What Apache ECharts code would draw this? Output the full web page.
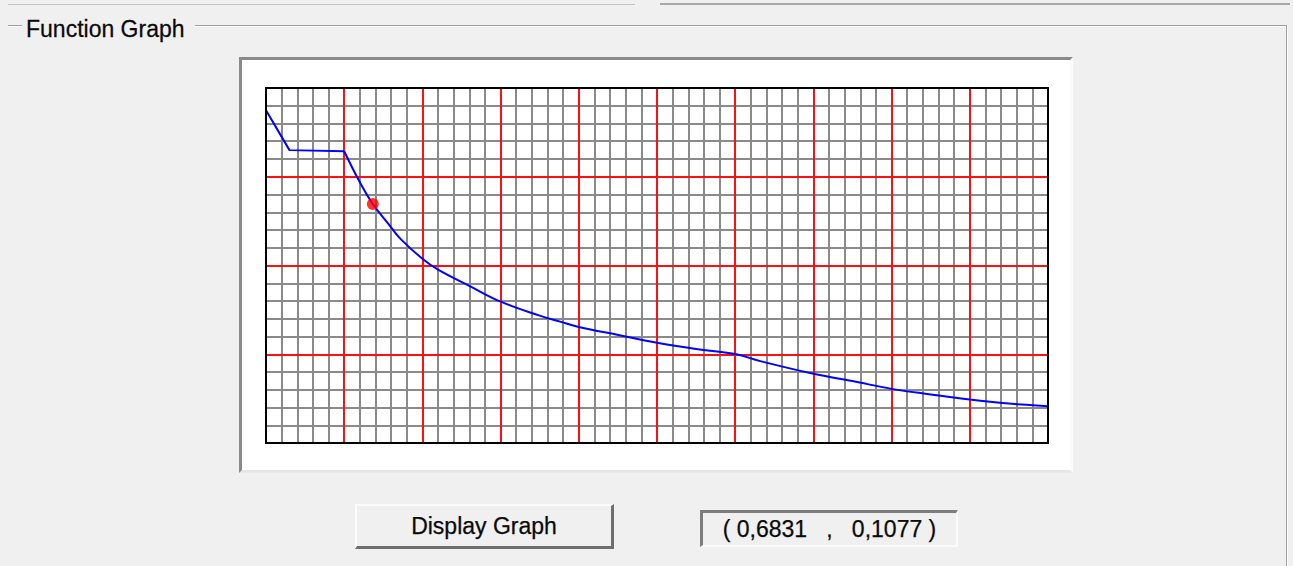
<!DOCTYPE html>
<html>
<head>
<meta charset="utf-8">
<script src="https://cdn.jsdelivr.net/npm/echarts@6/dist/echarts.min.js"></script>
<style>
  html, body { margin: 0; padding: 0; width: 1293px; height: 566px; background: #f0f0f0; overflow: hidden; font-family: "Liberation Sans", Arial, sans-serif; }
  .abs { position: absolute; box-sizing: border-box; }
  #topL { left: 8px; top: 4px; width: 627px; height: 1px; background: #c4c4c4; }
  #topR { left: 660px; top: 3px; width: 630px; height: 2px; background: #a8a8a8; }
  #gbL { left: 8px; top: 25px; width: 14px; height: 1px; background: #a0a0a0; }
  #gbR { left: 195px; top: 25px; width: 1093px; height: 1px; background: #a0a0a0; }
  #gbL2 { left: 8px; top: 26px; width: 14px; height: 1px; background: #ffffff; }
  #gbR2 { left: 195px; top: 26px; width: 1092px; height: 1px; background: #ffffff; }
  #gbV { left: 1286px; top: 25px; width: 2px; height: 541px; background: #a0a0a0; border-right: 1px solid #fff; }
  .t { color: #0a0a0a; white-space: pre; transform-origin: left center; -webkit-text-stroke: 0.25px #0a0a0a; }
  #title { left: 26px; top: 14px; font-size: 23px; line-height: 28px; transform: scaleY(1.08); }
  #panel { left: 239px; top: 57px; width: 834px; height: 416px; background: #fff;
           border-top: 3px solid #8a8a8a; border-left: 3px solid #8a8a8a;
           border-right: 3px solid #fbfbfb; border-bottom: 3px solid #e6e6e6; }
  #btn { left: 355px; top: 504px; width: 259px; height: 45px; background: #f0f0f0;
         border-top: 2px solid #fdfdfd; border-left: 2px solid #fdfdfd;
         border-right: 3px solid #6e6e6e; border-bottom: 3px solid #6e6e6e;
         font-size: 23px; text-align: center; line-height: 40px; }
  #coord { left: 700px; top: 510px; width: 258px; height: 37px; background: #f0f0f0;
           border-top: 3px solid #7d7d7d; border-left: 3px solid #7d7d7d;
           border-right: 2px solid #fbfbfb; border-bottom: 2px solid #fbfbfb;
           font-size: 23px; text-align: center; line-height: 32px; }
  #chart { position: absolute; left: 0; top: 0; width: 1293px; height: 566px; }
</style>
</head>
<body>
<div class="abs" id="topL"></div>
<div class="abs" id="topR"></div>
<div class="abs" id="gbL"></div>
<div class="abs" id="gbL2"></div>
<div class="abs" id="gbR"></div>
<div class="abs" id="gbR2"></div>
<div class="abs" id="gbV"></div>
<div class="abs t" id="title">Function Graph</div>
<div class="abs" id="panel"></div>
<div class="abs t" id="btn">Display Graph</div>
<div class="abs t" id="coord">( 0,6831   ,   0,1077 )</div>
<div id="chart"></div>
<script>
// Period (s)
const periods = [0, 0.15, 0.5, 0.6, 0.6831, 0.78, 0.86, 1.0, 1.1, 1.3, 1.5, 1.75, 1.88, 2.0, 2.26, 2.5, 2.75, 3.0, 3.16, 3.5, 3.75, 4.0, 4.25, 4.5, 4.75, 5.0];
// Spectral acceleration values
const accel   = [0.150, 0.132, 0.1315, 0.1175, 0.1077, 0.0990, 0.0920, 0.0830, 0.0781, 0.0708, 0.0637, 0.0574, 0.0547, 0.0523, 0.0486, 0.0452, 0.0424, 0.0401, 0.0369, 0.0312, 0.0279, 0.0244, 0.0219, 0.0196, 0.0178, 0.0166];
// Index where the straight (ramp + plateau) part ends and the descending branch starts
const plateauEndIndex = 2;
// Selected point shown by the red marker
const markerPoint = [0.6831, 0.1077];
// Axis ranges and grid spacing
const xRange = [0, 5];
const yRange = [0, 0.16];
const xMinorStep = 0.1, xMajorStep = 0.5;
const yMinorStep = 0.008, yMajorStep = 0.04;

const curve = periods.map((t, i) => [t, accel[i]]);
const straightPart = curve.slice(0, plateauEndIndex + 1);
const descendingPart = curve.slice(plateauEndIndex);

const G = { left: 266, top: 88, width: 782, height: 355 };
const chart = echarts.init(document.getElementById('chart'), null, { renderer: 'canvas' });
const hiddenAxis = { axisLabel: { show: false }, axisTick: { show: false }, axisLine: { show: false } };
const blue = { color: '#0000ff', width: 2 };
chart.setOption({
  backgroundColor: 'transparent',
  animation: false,
  grid: { left: G.left, top: G.top, width: G.width, height: G.height, show: true, backgroundColor: '#ffffff', borderWidth: 0 },
  xAxis: [
    Object.assign({ type: 'value', min: xRange[0], max: xRange[1], interval: xMinorStep, position: 'bottom', z: 1,
      splitLine: { show: true, lineStyle: { color: '#8a8a8a', width: 2 } } }, hiddenAxis),
    Object.assign({ type: 'value', min: xRange[0], max: xRange[1], interval: xMajorStep, position: 'top', z: 2,
      splitLine: { show: true, lineStyle: { color: '#ff1010', width: 2 } } }, hiddenAxis)
  ],
  yAxis: [
    Object.assign({ type: 'value', min: yRange[0], max: yRange[1], interval: yMinorStep, position: 'left', z: 1,
      splitLine: { show: true, lineStyle: { color: '#8a8a8a', width: 2 } } }, hiddenAxis),
    Object.assign({ type: 'value', min: yRange[0], max: yRange[1], interval: yMajorStep, position: 'right', z: 2,
      splitLine: { show: true, lineStyle: { color: '#ff1010', width: 2 } } }, hiddenAxis)
  ],
  graphic: [{
    type: 'rect', z: 100, silent: true,
    shape: { x: G.left, y: G.top, width: G.width, height: G.height },
    style: { fill: null, stroke: '#000000', lineWidth: 2 }
  }],
  series: [
    { type: 'line', data: straightPart, xAxisIndex: 0, yAxisIndex: 0, showSymbol: false, symbol: 'none', z: 5,
      lineStyle: blue },
    { type: 'line', data: descendingPart, xAxisIndex: 0, yAxisIndex: 0, showSymbol: false, symbol: 'none', z: 5,
      smooth: 0.4, lineStyle: blue },
    { type: 'scatter', data: [markerPoint], xAxisIndex: 0, yAxisIndex: 0, symbol: 'circle', symbolSize: 12, z: 6,
      itemStyle: { color: '#ff0000' } }
  ]
});
</script>
</body>
</html>
